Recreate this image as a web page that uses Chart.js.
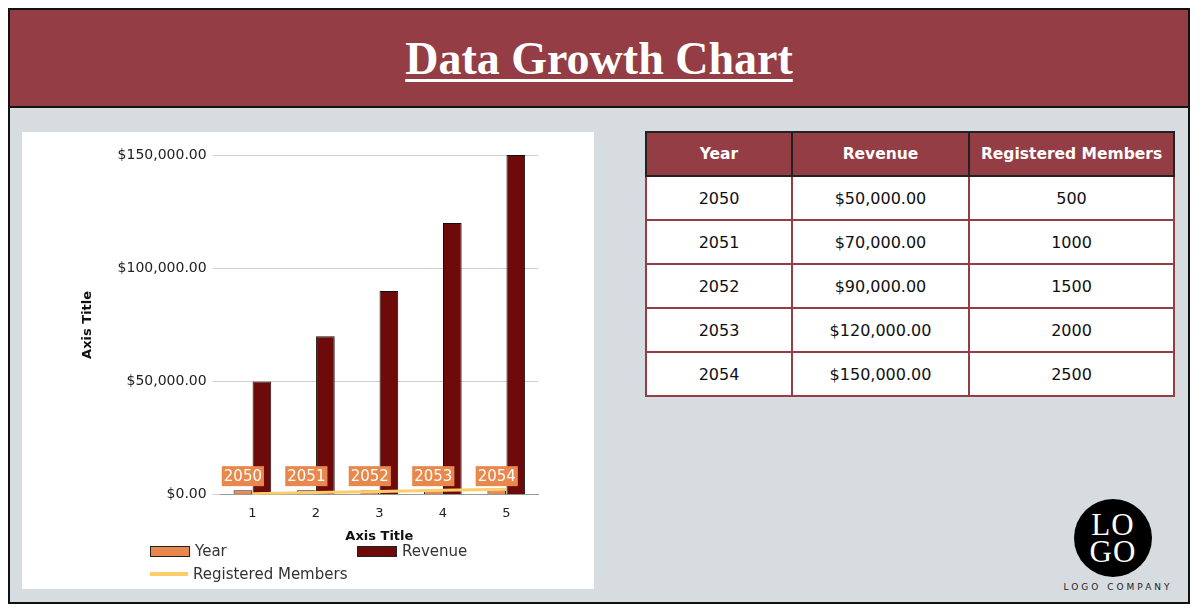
<!DOCTYPE html>
<html><head><meta charset="utf-8">
<script src="https://cdn.jsdelivr.net/npm/chart.js@4/dist/chart.umd.min.js"></script>
<style>
body{margin:0;width:1200px;height:615px;background:#fff;font-family:"DejaVu Sans",sans-serif;overflow:hidden}
#frame{position:absolute;left:8px;top:8px;width:1182px;height:596px;border:2px solid #111;background:#d7dce1;box-sizing:border-box}
#head{position:absolute;left:0;top:0;width:100%;height:98px;background:#943d44;border-bottom:2px solid #111;box-sizing:border-box;text-align:center}
#head h1{margin:0;padding-top:22px;font-family:"Liberation Serif",serif;font-weight:bold;font-size:46px;color:#fff;text-decoration:underline;text-decoration-thickness:3px;text-underline-offset:5px}
#panel{position:absolute;left:12px;top:122px;width:572px;height:457px;background:#fff}
#cw{position:absolute;left:0;top:0;width:572px;height:414px}
.lg{position:absolute;font-size:15px;color:#333;display:flex;align-items:center}
.sw{width:38px;height:9px;border:1px solid #222;margin-right:5px}
table{position:absolute;left:635px;top:121px;width:530px;border-collapse:collapse;border:2px solid #222;table-layout:fixed;background:#fff}
td,th{border:2px solid #943d44;height:40px;text-align:center;font-size:16px;color:#111}
th{background:#943d44;color:#fff;font-weight:bold;border:2px solid #222;font-size:15.5px;height:40px}
#logo{position:absolute;left:1064px;top:489px;width:78px;height:78px;border-radius:50%;background:#000;color:#fff;font-family:"Liberation Serif",serif;font-size:31px;line-height:27px;text-align:center;padding-top:12px;box-sizing:border-box;letter-spacing:1px}
#lc{position:absolute;left:1043px;top:572px;width:130px;text-align:center;font-size:9px;letter-spacing:3px;color:#222}
</style></head><body>
<div id="frame">
<div id="head"><h1>Data Growth Chart</h1></div>
<div id="panel">
<div id="cw"><canvas id="c"></canvas></div>
<div class="lg" style="left:128px;top:410px"><div class="sw" style="background:#e8884c"></div>Year</div>
<div class="lg" style="left:335px;top:410px"><div class="sw" style="background:#6e0a0a"></div>Revenue</div>
<div class="lg" style="left:128px;top:433px"><div style="width:38px;height:4px;background:#fccd6a;margin-right:5px"></div>Registered Members</div>
</div>
<table id="t"><colgroup><col style="width:146px"><col style="width:177px"><col style="width:205px"></colgroup></table>
<div id="logo">LO<br>GO</div>
<div id="lc">LOGO COMPANY</div>
</div>
<script>
const categories=["1","2","3","4","5"];
const years=[2050,2051,2052,2053,2054];
const revenue=[50000,70000,90000,120000,150000];
const members=[500,1000,1500,2000,2500];
const yTicks=[0,50000,100000,150000];
const fmt=v=>"$"+v.toLocaleString("en-US",{minimumFractionDigits:2,maximumFractionDigits:2});

let h='<tr><th>Year</th><th>Revenue</th><th>Registered Members</th></tr>';
years.forEach((y,i)=>{h+=`<tr><td>${y}</td><td>${fmt(revenue[i])}</td><td>${members[i]}</td></tr>`});
document.getElementById('t').insertAdjacentHTML('beforeend',h);

const labelPlugin={id:'lbl',afterDatasetsDraw(ch){
  const ctx=ch.ctx;const meta=ch.getDatasetMeta(1);
  ctx.save();ctx.font='15px "DejaVu Sans"';ctx.textAlign='center';ctx.textBaseline='middle';
  meta.data.forEach((b,i)=>{const t=String(years[i]);const w=ctx.measureText(t).width+4;
    const y=b.y-14;ctx.fillStyle='#e8884c';ctx.fillRect(b.x-w/2,y-10,w,20);ctx.fillStyle='#fff';ctx.fillText(t,b.x,y+1);});
  ctx.restore();}};

new Chart(document.getElementById('c'),{
 data:{labels:categories,datasets:[
  {type:'line',label:'Registered Members',data:members,borderColor:'#fccd6a',borderWidth:3,pointRadius:0,order:0},
  {type:'bar',label:'Year',data:years,backgroundColor:'#e8884c',borderColor:'#222',borderWidth:1,barPercentage:0.98,categoryPercentage:0.6,order:1},
  {type:'bar',label:'Revenue',data:revenue,backgroundColor:'#6e0a0a',borderColor:'#111',borderWidth:1,barPercentage:0.98,categoryPercentage:0.6,order:1}
 ]},
 options:{responsive:true,maintainAspectRatio:false,animation:false,
  layout:{padding:{top:23,right:56,bottom:0,left:54}},
  plugins:{legend:{display:false},tooltip:{enabled:false}},
  scales:{
   x:{grid:{display:false},border:{color:'#999'},ticks:{color:'#222',font:{size:13,family:'DejaVu Sans'}},
      title:{display:true,text:'Axis Title',color:'#111',font:{size:13,weight:'bold',family:'DejaVu Sans'},padding:{top:4,bottom:2}}},
   y:{min:0,max:150000,afterBuildTicks:a=>{a.ticks=yTicks.map(v=>({value:v}))},
      grid:{color:'#d0d0d0'},border:{display:false},
      ticks:{color:'#222',padding:6,font:{size:14,family:'DejaVu Sans'},callback:v=>fmt(v)},
      title:{display:true,text:'Axis Title',color:'#111',font:{size:13,weight:'bold',family:'DejaVu Sans'},padding:{bottom:16}}}
  }},
 plugins:[labelPlugin]
});
</script>
</body></html>
